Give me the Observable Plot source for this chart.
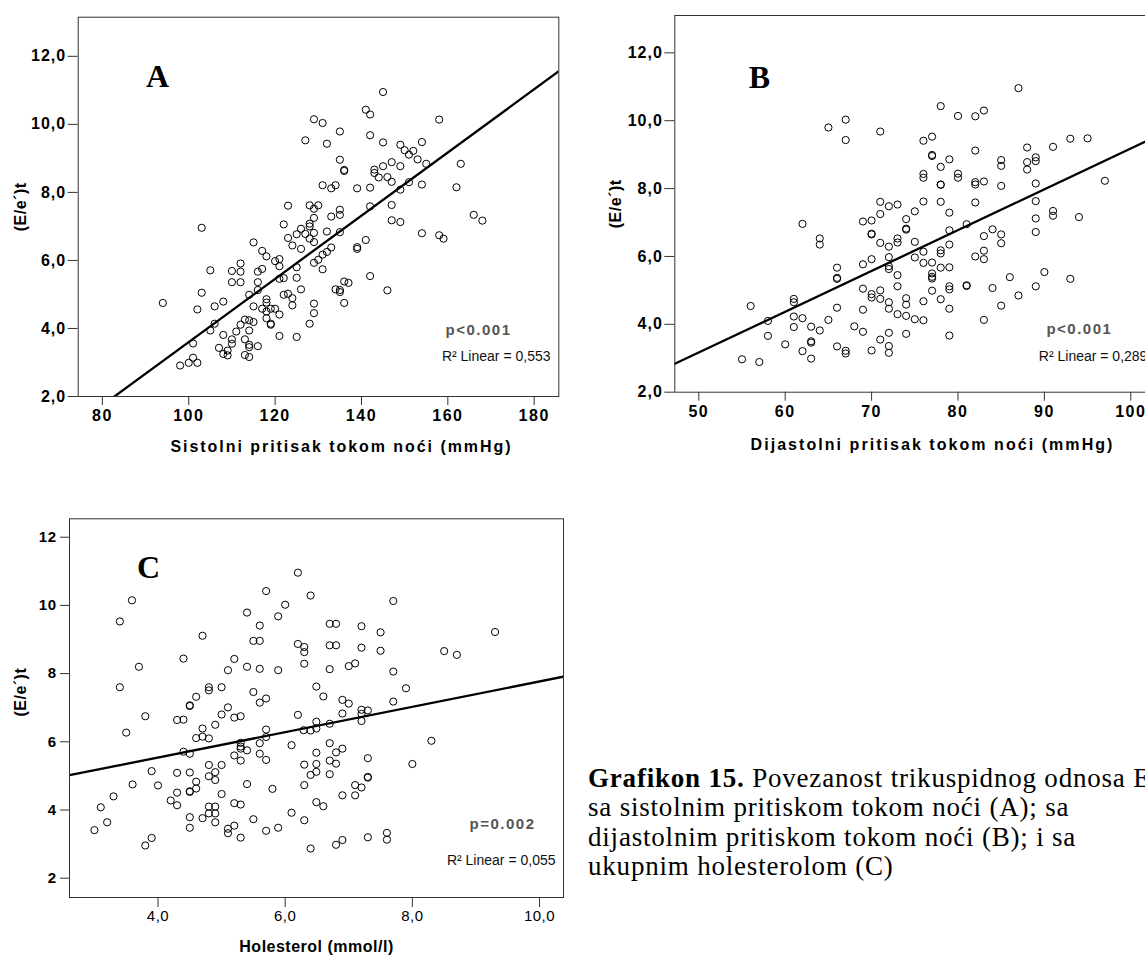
<!DOCTYPE html>
<html>
<head>
<meta charset="utf-8">
<script src="https://cdn.jsdelivr.net/npm/d3@7"></script>
<script src="https://cdn.jsdelivr.net/npm/@observablehq/plot@0.6"></script>
<style>
html,body{margin:0;padding:0;background:#fff;}
#root{position:relative;width:1145px;height:956px;overflow:hidden;background:#fff;}
.panel{position:absolute;}
.caption{position:absolute;left:588px;top:764px;font-family:"Liberation Serif","Times New Roman",serif;font-size:27px;line-height:29.3px;letter-spacing:0.8px;white-space:nowrap;color:#000;}
</style>
</head>
<body>
<div id="root">
  <div class="panel" id="pA" style="left:0px;top:0px;width:570px;height:460px;"></div>
  <div class="panel" id="pB" style="left:590px;top:0px;width:600px;height:460px;"></div>
  <div class="panel" id="pC" style="left:0px;top:480px;width:570px;height:476px;"></div>
  <div class="caption" id="cap"></div>
</div>
<script>
// ---------- DATA ----------
// Panel A: night systolic pressure (mmHg) vs (E/e')t
const pointsA = [
[123,7.61],[122,7.06],[103,6.96],[125,6.77],[123,6.66],[115,6.53],[124,6.44],[117,6.28],[118,6.12],[120,5.98],
[121,6.04],[112,5.91],[105,5.71],[110,5.69],[112,5.67],[116,5.67],[117,5.75],[121,5.83],[125,5.80],[110,5.36],
[112,5.36],[116,5.36],[121,5.46],[122,5.48],[125,5.49],[103,5.05],[114,4.99],[116,5.13],[94,4.75],[108,4.79],
[106,4.65],[102,4.56],[118,4.86],[118,4.76],[115,4.65],[117,4.58],[119,4.58],[118,4.50],[120,4.58],[121,4.41],
[122,4.99],[123,5.02],[124,4.89],[124,4.68],[118,4.30],[119,4.14],[119,4.11],[106,4.14],[105,3.94],[112,4.11],
[113,4.26],[114,4.24],[115,4.19],[114,3.94],[111,3.91],[110,3.68],[108,3.81],[113,3.68],[121,3.78],[125,3.75],
[101,3.56],[107,3.43],[109,3.35],[108,3.25],[109,3.21],[110,3.55],[114,3.52],[114,3.45],[116,3.48],[113,3.22],
[114,3.16],[98,2.91],[100,2.99],[101,3.14],[102,2.99],
[145,10.95],[141,10.43],[142,10.29],[129,10.15],[131,10.04],[158,10.14],[127,9.53],[135,9.79],[132,9.43],[142,9.68],
[145,9.47],[149,9.40],[150,9.24],[151,9.11],[152,9.22],[154,9.48],[153,8.97],[155,8.84],[135,8.96],[136,8.66],
[136,8.63],[143,8.67],[143,8.57],[144,8.44],[145,8.77],[146,8.45],[147,8.89],[147,8.31],[149,8.77],[151,8.30],
[149,8.08],[154,8.23],[163,8.84],[131,8.21],[133,8.12],[134,8.21],[139,8.12],[142,8.14],[162,8.15],[128,7.62],
[130,7.62],[129,7.52],[129,7.25],[135,7.49],[135,7.34],[133,7.29],[142,7.59],[147,7.63],[147,7.18],[149,7.13],
[166,7.34],[168,7.17],[126,6.93],[128,7.08],[128,7.00],[127,6.78],[129,6.81],[128,6.64],[129,6.54],[132,6.85],
[135,6.83],[154,6.80],[158,6.74],[159,6.64],[126,6.34],[133,6.38],[132,6.25],[131,6.17],[130,6.02],[129,5.93],
[131,5.74],[139,6.39],[139,6.34],[141,6.60],[142,5.54],[146,5.12],[134,5.15],[135,5.13],[135,5.07],[136,5.38],
[137,5.34],[129,4.73],[129,4.45],[136,4.75],[128,4.14],[126,5.15]
];
// Panel B: night diastolic pressure (mmHg) vs (E/e')t
const pointsB = [
[65,9.80],[67,10.03],[67,9.43],[71,9.68],[62,6.96],[64,6.53],[64,6.35],[69,7.03],[70,7.06],[71,7.61],
[71,7.25],[70,6.67],[70,6.65],[71,6.40],[66,5.67],[66,5.37],[66,5.34],[69,5.77],[70,5.92],[56,4.54],
[58,4.10],[58,3.66],[61,4.75],[61,4.65],[61,4.23],[61,3.92],[62,4.18],[63,3.93],[64,3.82],[63,3.50],
[63,3.46],[63,2.99],[62,3.21],[60,3.41],[55,2.97],[57,2.89],[65,4.13],[66,4.49],[66,3.35],[67,3.22],
[67,3.14],[68,3.94],[69,5.05],[69,4.43],[69,3.78],[70,4.89],[70,4.79],[70,3.23],[71,5.00],[71,4.75],
[71,3.55],
[87,10.96],[78,10.43],[80,10.14],[82,10.13],[83,10.30],[76,9.41],[77,9.53],[77,8.99],[77,8.96],[78,8.64],
[79,8.86],[82,9.12],[76,8.43],[76,8.32],[80,8.44],[80,8.32],[78,8.11],[78,8.12],[82,8.19],[82,8.12],
[83,8.21],[85,8.84],[85,8.67],[85,8.08],[88,9.21],[88,8.78],[88,8.56],[89,8.92],[89,8.81],[89,8.15],
[91,9.23],[93,9.47],[95,9.48],[97,8.23],[72,7.48],[73,7.53],[75,7.33],[76,7.62],[78,7.61],[82,7.59],
[79,7.29],[74,7.10],[74,6.82],[74,6.79],[72,6.29],[73,6.53],[73,6.41],[75,6.43],[79,6.77],[79,6.35],
[81,6.95],[84,6.80],[85,6.65],[85,6.39],[83,6.60],[83,6.17],[83,5.92],[82,6.00],[89,7.63],[89,7.12],
[89,6.72],[91,7.34],[91,7.20],[94,7.16],[76,6.14],[78,6.18],[78,6.09],[75,5.97],[76,5.81],[77,5.82],
[78,5.67],[79,5.68],[72,5.98],[72,5.71],[72,5.63],[73,5.45],[73,5.12],[77,5.50],[77,5.40],[77,5.35],
[77,4.99],[79,5.12],[79,5.03],[81,5.15],[81,5.13],[84,5.07],[86,5.39],[90,5.54],[93,5.34],[89,5.12],
[87,4.85],[85,4.55],[83,4.13],[79,4.46],[78,4.74],[76,4.68],[74,4.77],[74,4.58],[72,4.65],[72,4.46],
[73,4.30],[74,4.25],[75,4.15],[76,4.12],[72,3.75],[74,3.72],[79,3.67],[72,3.36],[72,3.16]
];
// Panel C: cholesterol (mmol/l) vs (E/e')t
const pointsC = [
[6.20,10.96],[5.70,10.42],[6.00,10.02],[5.89,9.68],[5.40,9.79],[5.60,9.41],[3.59,10.15],[3.40,9.53],[4.70,9.11],[5.50,8.96],
[5.60,8.96],[6.20,8.87],[6.30,8.78],[6.30,8.63],[6.30,8.29],[4.40,8.44],[5.20,8.43],[5.10,8.10],[5.40,8.20],[5.60,8.14],
[5.89,8.10],[3.70,8.20],[3.40,7.60],[4.80,7.60],[4.80,7.51],[5.00,7.60],[4.60,7.32],[4.50,7.07],[4.50,7.05],[5.50,7.46],
[5.60,7.15],[5.70,7.27],[3.80,6.75],[4.30,6.64],[4.40,6.65],[5.10,7.01],[5.00,6.80],[5.20,6.71],[5.30,6.75],[4.90,6.50],
[4.70,6.39],[4.60,6.11],[4.70,6.15],[4.80,6.10],[5.70,6.36],[5.70,6.14],[6.20,6.79],[3.50,6.27],[4.40,5.71],[4.50,5.65],
[5.30,5.97],[5.30,5.86],[5.30,5.80],[5.40,5.75],[5.20,5.60],[5.30,5.45],[5.60,5.96],[5.60,5.65],[5.70,5.47],[6.10,5.90],
[3.90,5.14],[4.30,5.09],[4.50,5.10],[4.80,5.32],[5.00,5.32],[4.80,4.99],[4.90,5.11],[4.90,4.88],[4.60,4.83],[4.60,4.63],
[4.50,4.55],[4.50,4.53],[4.30,4.51],[3.60,4.75],[4.00,4.72],[3.30,4.40],[3.10,4.08],[3.20,3.64],[3.00,3.41],[4.20,4.28],
[4.30,4.14],[5.00,4.47],[5.40,4.76],[5.80,4.62],[6.30,5.33],[6.30,4.73],[4.80,4.10],[4.90,4.10],[4.80,3.90],[4.90,3.90],
[4.70,3.76],[4.90,3.64],[4.50,3.79],[4.50,3.48],[5.20,4.20],[5.30,4.16],[5.50,3.73],[5.10,3.45],[5.10,3.32],[5.20,3.54],
[5.30,3.19],[5.70,3.39],[5.89,3.48],[6.10,3.92],[6.30,3.70],[3.80,2.96],[3.90,3.18],
[6.40,10.29],[7.70,10.13],[6.70,9.46],[6.80,9.46],[7.20,9.39],[7.50,9.21],[9.30,9.22],[6.70,8.83],[6.80,8.83],[7.20,8.76],
[7.50,8.67],[8.50,8.66],[8.70,8.55],[7.00,8.22],[7.10,8.30],[6.70,8.13],[7.70,8.06],[6.49,7.62],[6.60,7.33],[7.90,7.57],
[6.90,7.23],[7.00,7.12],[7.70,7.18],[7.20,6.94],[7.30,6.92],[7.20,6.82],[7.20,6.61],[6.90,6.83],[6.49,6.59],[6.49,6.39],
[6.70,6.53],[6.40,6.33],[6.29,6.34],[8.30,6.03],[6.70,5.96],[6.90,5.80],[6.80,5.69],[6.49,5.68],[6.49,5.35],[6.70,5.45],
[6.80,5.36],[7.30,5.52],[8.00,5.35],[6.40,5.03],[6.49,5.12],[6.70,5.05],[7.30,4.97],[7.30,4.95],[7.10,4.73],[7.20,4.66],
[6.90,4.43],[7.10,4.43],[6.49,4.23],[6.60,4.11],[7.60,3.33],[7.60,3.13],[7.30,3.20],[6.90,3.12],[6.80,2.98],[6.40,2.87]
];
// Linear fits (intercept, slope)
const fitIntercepts = [-5.69, -2.84, 4.05];
const fitSlopes = [0.0929, 0.1202, 0.372];
const panelLetters = ["A", "B", "C"];
const pLabels = ["p<0.001", "p<0.001", "p=0.002"];
const r2Labels = ["R² Linear = 0,553", "R² Linear = 0,289", "R² Linear = 0,055"];
const xTitles = ["Sistolni pritisak tokom noći (mmHg)", "Dijastolni pritisak tokom noći (mmHg)", "Holesterol (mmol/l)"];
const yTitle = "(E/e´)t";
const xTicksA = [80, 100, 120, 140, 160, 180];
const xTicksB = [50, 60, 70, 80, 90, 100];
const xTicksC = [4, 6, 8, 10];
const yTicksAll = [2, 4, 6, 8, 10, 12];
const captionBold = "Grafikon 15.";
const captionLines = [
  " Povezanost trikuspidnog odnosa E/e´",
  "sa sistolnim pritiskom tokom noći (A); sa",
  "dijastolnim pritiskom tokom noći (B); i sa",
  "ukupnim holesterolom (C)"
];

// ---------- DRAWING ----------
const SANS = '"Liberation Sans", Arial, sans-serif';
const SERIF = '"Liberation Serif", "Times New Roman", serif';
const comma1 = d => d.toFixed(1).replace(".", ",");

function makePanel(c) {
  const pts = c.points.map(([x, y]) => ({x, y}));
  const fitLine = c.xDomain.map(x => ({x, y: c.b0 + c.b1 * x}));
  const svg = Plot.plot({
    width: c.width, height: c.height,
    marginLeft: c.ml, marginRight: c.mr, marginTop: c.mt, marginBottom: c.mb,
    x: {domain: c.xDomain},
    y: {domain: c.yDomain},
    style: {fontFamily: SANS, background: "white", maxWidth: "none", overflow: "visible", color: "#000"},
    marks: [
      Plot.dot(pts, {x: "x", y: "y", r: 3.6, stroke: "#000", strokeWidth: 1, fill: "none"}),
      Plot.line(fitLine, {x: "x", y: "y", stroke: "#000", strokeWidth: 2.3, clip: true}),
      Plot.frame({stroke: "#333", strokeWidth: 1}),
      Plot.axisX({ticks: c.xTicks, tickSize: c.xTickSize, tickPadding: c.xTickPad, tickFormat: c.xFmt,
        fontSize: c.xFontSize, fontWeight: c.xBold ? "bold" : "normal", label: null, stroke: "#333"}),
      Plot.axisY({ticks: yTicksAll, tickSize: c.yTickSize, tickPadding: c.yTickPad, tickFormat: c.yFmt,
        fontSize: c.yFontSize, fontWeight: "bold", label: null, stroke: "#333"}),
      Plot.text([c.letter], {text: d => d, frameAnchor: "top-left", dx: c.letterDx, dy: c.letterDy,
        fontFamily: SERIF, fontWeight: "bold", fontSize: 32, textAnchor: "middle", lineAnchor: "middle"}),
      Plot.text([c.p], {text: d => d, frameAnchor: "bottom-right", dx: c.pDx, dy: c.pDy,
        fontWeight: "bold", fontSize: 15, fill: "#555", textAnchor: "end", lineAnchor: "middle"}),
      Plot.text([c.r2], {text: d => d, frameAnchor: "bottom-right", dx: c.rDx, dy: c.rDy,
        fontSize: c.rFontSize, fill: "#111", textAnchor: "end", lineAnchor: "middle"}),
      Plot.text([c.xTitle], {text: d => d, frameAnchor: "bottom", dx: c.xtDx, dy: c.xtDy,
        fontWeight: "bold", fontSize: 16, textAnchor: "middle", lineAnchor: "middle"}),
      Plot.text([yTitle], {text: d => d, frameAnchor: "left", dx: c.ytDx, dy: c.ytDy, rotate: -90,
        fontWeight: "bold", fontSize: 16, textAnchor: "middle", lineAnchor: "middle"})
    ]
  });
  const s = d3.select(svg);
  const groupTexts = key => s.selectAll("g")
    .filter(function() { return (this.getAttribute("aria-label") || "").includes(key); })
    .selectAll("text");
  groupTexts("x-axis tick label").attr("letter-spacing", c.xTickLs);
  groupTexts("y-axis tick label").attr("letter-spacing", c.yTickLs);
  const byText = (t, ls) => s.selectAll("text")
    .filter(function() { return this.textContent === t; })
    .attr("letter-spacing", ls);
  byText(c.xTitle, c.xtLs);
  byText(c.p, "1.5px");
  byText(yTitle, "0.5px");
  document.getElementById(c.el).appendChild(svg);
}

makePanel({
  el: "pA", points: pointsA, b0: fitIntercepts[0], b1: fitSlopes[0],
  width: 570, height: 460, ml: 77.7, mr: 11.7, mt: 16.7, mb: 64,
  xDomain: [74.4, 185.7], yDomain: [2, 13.15],
  xTicks: xTicksA, xFmt: d => String(d), xBold: true, xFontSize: 16, xTickSize: 9, xTickPad: 4, xTickLs: "1.5px",
  yFmt: comma1, yFontSize: 16, yTickSize: 10, yTickPad: 2, yTickLs: "1px",
  letter: panelLetters[0], letterDx: 79.3, letterDy: 59.3,
  p: pLabels[0], pDx: -47.3, pDy: -66,
  r2: r2Labels[0], rDx: -8.3, rDy: -40, rFontSize: 14,
  xTitle: xTitles[0], xtDx: 23, xtDy: 50, xtLs: "1.95px",
  ytDx: -57.7, ytDy: 0
});

makePanel({
  el: "pB", points: pointsB, b0: fitIntercepts[1], b1: fitSlopes[1],
  width: 600, height: 460, ml: 84.3, mr: 35.1, mt: 15, mb: 68.3,
  xDomain: [47.22, 102.85], yDomain: [2, 13.1],
  xTicks: xTicksB, xFmt: d => String(d), xBold: true, xFontSize: 16, xTickSize: 9, xTickPad: 4, xTickLs: "1.5px",
  yFmt: comma1, yFontSize: 16, yTickSize: 10, yTickPad: 2, yTickLs: "1px",
  letter: panelLetters[1], letterDx: 84.7, letterDy: 62.5,
  p: pLabels[1], pDx: -43, pDy: -63,
  r2: r2Labels[1], rDx: -8, rDy: -36, rFontSize: 14,
  xTitle: xTitles[1], xtDx: 17.4, xtDy: 53, xtLs: "2.05px",
  ytDx: -59.3, ytDy: 0
});

makePanel({
  el: "pC", points: pointsC, b0: fitIntercepts[2], b1: fitSlopes[2],
  width: 570, height: 476, ml: 69, mr: 7, mt: 38.3, mb: 59,
  xDomain: [2.608, 10.377], yDomain: [1.434, 12.54],
  xTicks: xTicksC, xFmt: comma1, xBold: false, xFontSize: 15, xTickSize: 10, xTickPad: 3, xTickLs: "0.5px",
  yFmt: d => String(d), yFontSize: 15, yTickSize: 9, yTickPad: 4, yTickLs: "0.5px",
  letter: panelLetters[2], letterDx: 79, letterDy: 48.7,
  p: pLabels[2], pDx: -28, pDy: -73,
  r2: r2Labels[2], rDx: -8, rDy: -37, rFontSize: 14,
  xTitle: xTitles[2], xtDx: 0, xtDy: 49, xtLs: "0.5px",
  ytDx: -49, ytDy: -16
});

// caption
const cap = document.getElementById("cap");
const b = document.createElement("b");
b.textContent = captionBold;
cap.appendChild(b);
captionLines.forEach((line, i) => {
  if (i > 0) cap.appendChild(document.createElement("br"));
  cap.appendChild(document.createTextNode(line));
});
</script>
</body>
</html>
